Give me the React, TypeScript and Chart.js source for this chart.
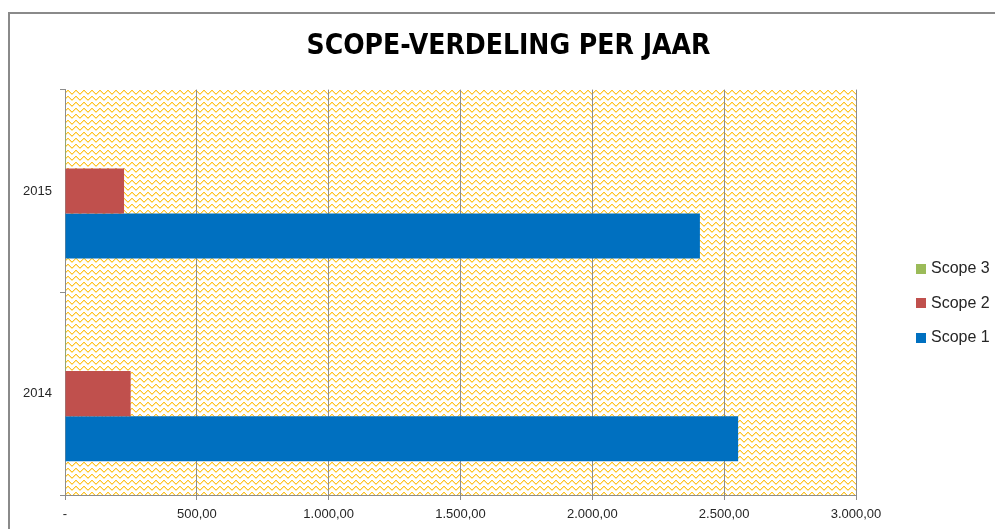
import React, { useEffect, useRef } from 'react';
import { Chart, registerables } from 'chart.js';

Chart.register(...registerables);

// ---- data ----
const categories = ['2015', '2014'];
const seriesNames = ['Scope 3', 'Scope 2', 'Scope 1'];
const scope3Values = [4, 4];
const scope2Values = [224, 249];
const scope1Values = [2408, 2553];
const xTickValues = [0, 500, 1000, 1500, 2000, 2500, 3000];
const xTickLabels = ['-', '500,00', '1.000,00', '1.500,00', '2.000,00', '2.500,00', '3.000,00'];
const seriesColors = ['#9BBB59', '#C0504D', '#0070C0'];
const titleText = 'SCOPE-VERDELING PER JAAR';

const TICK_FONT = "'Liberation Sans', Arial, sans-serif";
const GRID = '#8c8c8c';

function makePattern(ctx: CanvasRenderingContext2D) {
  const c = document.createElement('canvas');
  c.width = 8;
  c.height = 6;
  const p = c.getContext('2d')!;
  p.fillStyle = '#ffffff';
  p.fillRect(0, 0, 8, 6);
  const ys = [3, 2, 1, 0, 0, 1, 2, 3];
  for (let x = 0; x < 8; x++) {
    p.fillStyle = '#FFC42A';
    p.fillRect(x, ys[x], 1, 1);
    p.fillStyle = '#FFE8A0';
    p.fillRect(x, ys[x] + 1, 1, 1);
  }
  return ctx.createPattern(c, 'repeat');
}

const backgroundPlugin = {
  id: 'plotPattern',
  beforeDraw(chart: any) {
    const { ctx, chartArea } = chart;
    const pat = makePattern(ctx);
    ctx.save();
    if (pat) ctx.fillStyle = pat;
    ctx.fillRect(chartArea.left, chartArea.top, chartArea.right - chartArea.left, chartArea.bottom - chartArea.top);
    ctx.restore();
  },
};

const framePlugin = {
  id: 'outerFrame',
  afterDraw(chart: any) {
    const { ctx } = chart;
    ctx.save();
    ctx.strokeStyle = '#8a8a8a';
    ctx.lineWidth = 2;
    ctx.strokeRect(9, 13, 3000, 3000);
    ctx.restore();
  },
};

const legendPlugin = {
  id: 'sideLegend',
  afterDraw(chart: any) {
    const { ctx, chartArea } = chart;
    const ds = chart.data.datasets;
    const cx = chartArea.right + 60;
    const cy = (chartArea.top + chartArea.bottom) / 2 + 11;
    const step = 34.5;
    ctx.save();
    ctx.font = `16px ${TICK_FONT}`;
    ctx.textBaseline = 'middle';
    ctx.textAlign = 'left';
    ds.forEach((d: any, i: number) => {
      const y = cy + (i - (ds.length - 1) / 2) * step;
      ctx.fillStyle = d.backgroundColor;
      ctx.fillRect(cx, Math.round(y - 5), 10, 10);
      ctx.fillStyle = '#262626';
      ctx.fillText(d.label, cx + 15, y);
    });
    ctx.restore();
  },
};

export default function App() {
  const ref = useRef<HTMLCanvasElement>(null);

  useEffect(() => {
    const canvas = ref.current!;
    const values = [scope3Values, scope2Values, scope1Values];
    const chart = new Chart(canvas, {
      type: 'bar',
      data: {
        labels: categories,
        datasets: seriesNames.map((name, i) => ({
          label: name,
          data: values[i],
          backgroundColor: seriesColors[i],
          borderWidth: 0,
          categoryPercentage: 0.667,
          barPercentage: 1,
        })),
      },
      options: {
        indexAxis: 'y',
        responsive: false,
        animation: false,
        devicePixelRatio: 1,
        layout: { padding: { left: 22, right: 0, top: 0, bottom: 0 } },
        plugins: {
          legend: { display: false },
          tooltip: { enabled: false },
          title: {
            display: true,
            text: titleText,
            color: '#000',
            font: { family: "'DejaVu Sans Condensed', 'Liberation Sans Narrow', sans-serif", size: 28, weight: 'bold' },
            padding: { top: 30, bottom: 26 },
          },
        },
        scales: {
          x: {
            type: 'linear',
            min: 0,
            max: 3000,
            afterFit(scale: any) {
              scale.height = 34;
            },
            afterBuildTicks(scale: any) {
              scale.ticks = xTickValues.map((v) => ({ value: v }));
            },
            ticks: {
              stepSize: 500,
              autoSkip: false,
              maxRotation: 0,
              padding: 7,
              color: '#262626',
              font: { family: TICK_FONT, size: 13 },
              callback: (v: any) => {
                const idx = xTickValues.indexOf(Number(v));
                return idx >= 0 ? xTickLabels[idx] : '';
              },
            },
            grid: { color: GRID, lineWidth: 1, tickLength: 5, drawTicks: true },
            border: { display: true, color: GRID },
          },
          y: {
            type: 'category',
            afterFit(scale: any) {
              scale.width = 43;
            },
            ticks: {
              padding: 8,
              color: '#262626',
              font: { family: TICK_FONT, size: 13 },
            },
            grid: { display: true, drawOnChartArea: false, drawTicks: true, tickLength: 5, color: GRID, offset: true },
            border: { display: true, color: GRID },
          },
          legendSpace: {
            type: 'category',
            position: 'right',
            labels: categories,
            afterFit(scale: any) {
              scale.width = 139;
            },
            ticks: { display: false },
            grid: { display: false, drawTicks: false },
            border: { display: false },
          },
        },
      },
      plugins: [backgroundPlugin, framePlugin, legendPlugin],
    } as any);
    return () => chart.destroy();
  }, []);

  return (
    <div style={{ position: 'absolute', left: 0, top: 0, width: 995, height: 529, background: '#fff' }}>
      <canvas ref={ref} width={995} height={529} style={{ display: 'block' }} />
    </div>
  );
}
